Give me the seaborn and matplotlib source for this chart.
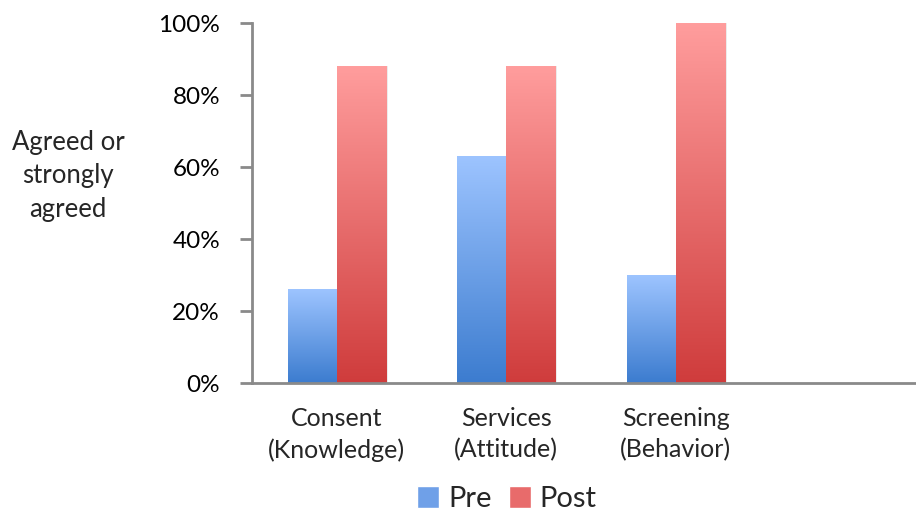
import numpy as np
import pandas as pd
import matplotlib
matplotlib.use("Agg")
import matplotlib.pyplot as plt
import seaborn as sns
from matplotlib.colors import LinearSegmentedColormap
from matplotlib.patches import Patch

categories = ["Consent\n(Knowledge)", "Services\n(Attitude)", "Screening\n(Behavior)", " "]
pre_values = [26, 63, 30, np.nan]
post_values = [88, 88, 100, np.nan]
series = ["Pre", "Post"]
y_ticks = [0, 20, 40, 60, 80, 100]
y_tick_labels = ["0%", "20%", "40%", "60%", "80%", "100%"]

sns.set_style("white")
plt.rcParams['font.family'] = ['Lato', 'DejaVu Sans']

df = pd.DataFrame({
    "category": categories * 2,
    "series": ["Pre"] * len(categories) + ["Post"] * len(categories),
    "value": pre_values + post_values,
})

fig = plt.figure(figsize=(9.16, 5.12), dpi=100)
ax = fig.add_axes([252 / 916, 1 - 383 / 512, (916 - 252) / 916, 360 / 512])

palette = {"Pre": "#6fa0e8", "Post": "#e06a6a"}
sns.barplot(data=df, x="category", y="value", hue="series", order=categories,
            hue_order=series, palette=palette, width=0.58, ax=ax, legend=False,
            linewidth=0, errorbar=None)

grad = {
    "Pre": LinearSegmentedColormap.from_list("pre", ["#3c7ccf", "#9dc4ff"]),
    "Post": LinearSegmentedColormap.from_list("post", ["#cf3c3c", "#ff9d9d"]),
}

ax.set_ylim(0, 100)
ax.set_xlim(-0.5, -0.5 + (916 - 252) / 169.5)

for container, name in zip(ax.containers, series):
    for bar in container:
        h = bar.get_height()
        if not np.isfinite(h) or h <= 0:
            continue
        x0 = bar.get_x()
        w = bar.get_width()
        ax.add_patch(plt.Rectangle((x0 + 0.012, 0), w, h, color="#000000",
                                   alpha=0.08, lw=0, zorder=1))
        bar.set_facecolor("none")
        bar.set_zorder(3)
        grad_arr = np.linspace(0, 1, 256).reshape(-1, 1)
        im = ax.imshow(grad_arr, cmap=grad[name], origin="lower", aspect="auto",
                       extent=(x0, x0 + w, 0, h), zorder=2, vmin=0, vmax=1)
        im.set_clip_path(bar)

ax.set_xlim(-0.5, -0.5 + (916 - 252) / 169.5)
ax.set_ylim(0, 100)

ax.set_yticks(y_ticks)
ax.set_yticklabels(y_tick_labels, fontsize=17.5, color="#000000")
ax.tick_params(axis="y", length=9, width=2, color="#8a8a8a", direction="out", pad=14, left=True)
ax.tick_params(axis="x", length=0, labelsize=18, pad=17)
ax.set_xlabel("")
ax.set_ylabel("")

for side in ["top", "right"]:
    ax.spines[side].set_visible(False)
for side in ["left", "bottom"]:
    ax.spines[side].set_color("#8a8a8a")
    ax.spines[side].set_linewidth(2)

for lbl in ax.get_xticklabels():
    lbl.set_linespacing(1.45)

fig.text(68 / 916, 1 - 176 / 512, "Agreed or\nstrongly\nagreed", ha="center", va="center",
         fontsize=18.5, linespacing=1.42)

handles = [Patch(facecolor="#6fa0e8", label="Pre"), Patch(facecolor="#e86b6b", label="Post")]
fig.legend(handles=handles, loc="center", bbox_to_anchor=(507 / 916, 1 - 499 / 512), ncol=2,
           frameon=False, fontsize=21, handlelength=0.75, handleheight=0.75,
           handletextpad=0.3, columnspacing=0.6, borderpad=0)

fig.savefig("out.png", dpi=100)
